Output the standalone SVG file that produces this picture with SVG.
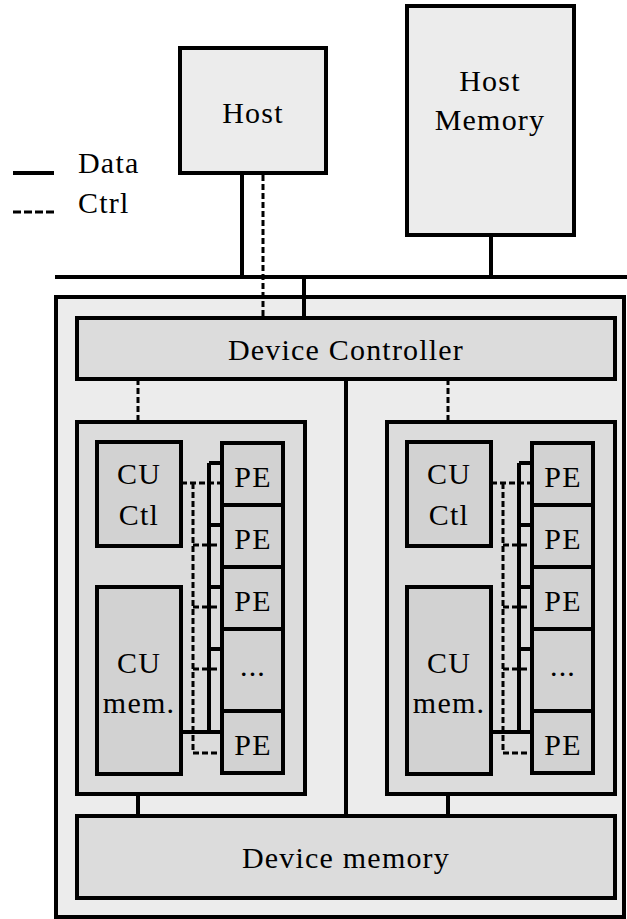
<svg xmlns="http://www.w3.org/2000/svg" width="627" height="919" viewBox="0 0 627 919">
<style>
text{font-family:"Liberation Serif","Times New Roman",serif;font-size:30px;letter-spacing:1.2px;fill:#000;text-anchor:middle}
.box{stroke:#000;stroke-width:4}
.l1{fill:#ececec}.l2{fill:#dcdcdc}.l3{fill:#d2d2d2}
.data{stroke:#000;stroke-width:4;fill:none}
.ctrl{stroke:#000;stroke-width:3;fill:none;stroke-dasharray:6,3}
</style>
<rect width="627" height="919" fill="#fff"/>
<g id="legend">
<line x1="13" y1="173" x2="54" y2="173" class="data"/>
<line x1="13" y1="212" x2="54" y2="212" class="ctrl" style="stroke-dasharray:8,3"/>
<text x="78" y="173" style="text-anchor:start">Data</text>
<text x="78" y="213" style="text-anchor:start">Ctrl</text>
</g>
<g id="device">
<rect x="56" y="297" width="568" height="620" class="box l1"/>
</g>
<g id="host">
<rect x="180" y="48" width="146" height="125" class="box l1"/>
<text x="253" y="123">Host</text>
</g>
<g id="host-memory">
<rect x="407" y="6" width="167" height="229" class="box l1"/>
<text x="490" y="91">Host</text>
<text x="490" y="130">Memory</text>
</g>
<g id="connectors">
<line x1="55" y1="277" x2="627" y2="277" class="data"/>
<line x1="242" y1="173" x2="242" y2="277" class="data"/>
<line x1="491" y1="235" x2="491" y2="277" class="data"/>
<line x1="304" y1="277" x2="304" y2="318" class="data"/>
<line x1="263" y1="175" x2="263" y2="318" class="ctrl"/>
<line x1="138" y1="379" x2="138" y2="422" class="ctrl"/>
<line x1="448" y1="379" x2="448" y2="422" class="ctrl"/>
<line x1="346" y1="379" x2="346" y2="816" class="data"/>
<line x1="138" y1="774" x2="138" y2="816" class="data"/>
<line x1="448" y1="774" x2="448" y2="816" class="data"/>
</g>
<g id="device-controller">
<rect x="77" y="318" width="538" height="61" class="box l2"/>
<text x="346" y="360">Device Controller</text>
</g>
<g id="device-memory">
<rect x="77" y="816" width="538" height="82" class="box l2"/>
<text x="346" y="868">Device memory</text>
</g>
<defs>
<g id="cu">
<rect x="77" y="422" width="228" height="372" class="box l2"/>
<rect x="97" y="442" width="84" height="104" class="box l3"/>
<text x="139" y="484">CU</text>
<text x="139" y="525">Ctl</text>
<rect x="97" y="587" width="84" height="187" class="box l3"/>
<text x="139" y="673">CU</text>
<text x="139" y="713">mem.</text>
<path d="M209 463V732M209 463H222M209 525H222M209 587H222M209 649H222M181 732H222" class="data"/>
<path d="M181 483H222M193 483V753M193 545H222M193 607H222M193 669H222M193 753H222" class="ctrl"/>
<rect x="222" y="443" width="61" height="62" class="box l3"/>
<text x="253" y="487">PE</text>
<rect x="222" y="505" width="61" height="62" class="box l3"/>
<text x="253" y="549">PE</text>
<rect x="222" y="567" width="61" height="62" class="box l3"/>
<text x="253" y="611">PE</text>
<rect x="222" y="629" width="61" height="82" class="box l3"/>
<text x="253" y="676">...</text>
<rect x="222" y="711" width="61" height="62" class="box l3"/>
<text x="253" y="755">PE</text>
</g>
</defs>
<g id="compute-unit-left"><use href="#cu"/></g>
<g id="compute-unit-right"><use href="#cu" x="310"/></g>
</svg>
